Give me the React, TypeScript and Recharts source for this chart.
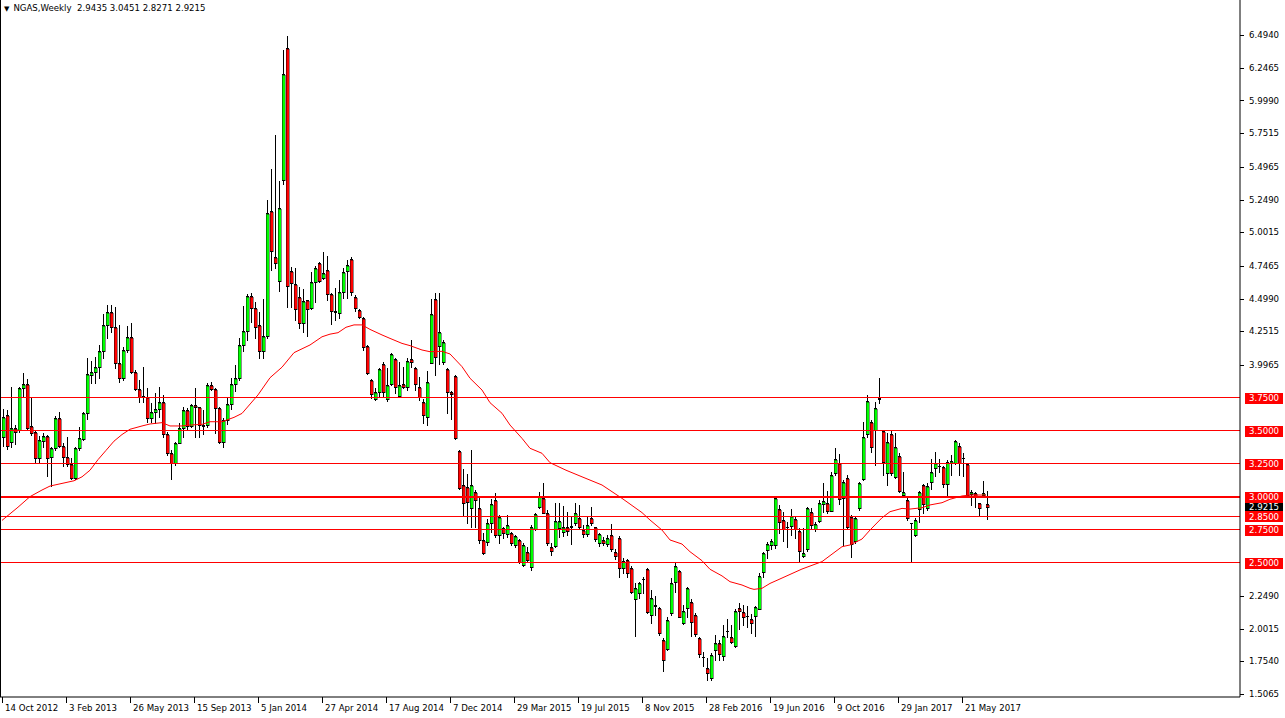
import React from "react";
import { ComposedChart, Bar, Line, XAxis, YAxis, ReferenceLine } from "recharts";

// ---- data (weekly NGAS candles) ----
const opens = [
  3.45, 3.618, 3.416, 3.522, 3.504, 3.822, 3.852, 3.534, 3.49, 3.29,
  3.424, 3.459, 3.297, 3.366, 3.593, 3.383, 3.302, 3.245, 3.138, 3.366,
  3.434, 3.63, 3.92, 3.94, 3.98, 4.1, 4.3, 4.4, 4.282, 4.014,
  3.895, 4.11, 4.206, 3.946, 3.812, 3.762, 3.757, 3.593, 3.638, 3.661,
  3.719, 3.474, 3.333, 3.252, 3.408, 3.517, 3.656, 3.535, 3.694, 3.676,
  3.542, 3.542, 3.845, 3.812, 3.668, 3.416, 3.58, 3.7, 3.85, 3.9,
  4.148, 4.254, 4.519, 4.425, 4.3, 4.1, 4.218, 5.162, 4.811, 4.635,
  5.394, 6.394, 4.71, 4.607, 4.509, 4.312, 4.486, 4.43, 4.625, 4.766,
  4.652, 4.713, 4.531, 4.405, 4.388, 4.552, 4.71, 4.799, 4.514, 4.413,
  4.35, 4.14, 3.883, 3.737, 3.79, 4.001, 3.737, 3.853, 4.039, 3.764,
  3.853, 3.832, 4.042, 3.971, 3.832, 3.714, 3.6, 4.014, 4.494, 4.14,
  4.022, 3.964, 3.79, 3.913, 3.346, 3.088, 3.075, 2.912, 3.032, 2.912,
  2.672, 2.654, 2.803, 2.974, 2.71, 2.76, 2.717, 2.722, 2.634, 2.672,
  2.482, 2.583, 2.465, 2.753, 2.924, 2.987, 2.874, 2.616, 2.626, 2.76,
  2.735, 2.768, 2.771, 2.803, 2.836, 2.747, 2.717, 2.841, 2.768, 2.647,
  2.672, 2.641, 2.71, 2.583, 2.684, 2.457, 2.52, 2.457, 2.222, 2.268,
  2.376, 2.452, 2.104, 2.174, 2.159, 1.915, 1.844, 2.117, 2.351, 2.437,
  2.046, 2.155, 2.2, 2.104, 1.927, 1.783, 1.705, 1.625, 1.839, 1.894,
  1.794, 1.984, 1.94, 1.869, 2.155, 2.129, 2.095, 2.074, 2.096, 2.149,
  2.432, 2.596, 2.634, 2.634, 2.904, 2.823, 2.771, 2.78, 2.828, 2.74,
  2.553, 2.601, 2.886, 2.755, 2.818, 2.942, 2.954, 2.894, 3.176, 3.257,
  2.987, 3.143, 2.848, 2.664, 2.916, 3.133, 3.472, 3.562, 3.504, 3.749,
  3.5, 3.181, 3.474, 3.146, 3.307, 3.012, 2.975, 2.797, 2.709, 2.906,
  3.088, 2.911, 3.113, 3.214, 3.233, 3.227, 3.095, 3.252, 3.252, 3.383,
  3.296, 3.247, 3.02, 3.025, 2.949, 3.012, 2.9435,
];
const highs = [
  3.66, 3.656, 3.832, 3.54, 3.832, 3.933, 3.888, 3.744, 3.504, 3.459,
  3.479, 3.465, 3.378, 3.61, 3.643, 3.403, 3.454, 3.29, 3.378, 3.529,
  3.643, 4.05, 4.03, 4.06, 4.15, 4.38, 4.45, 4.45, 4.438, 4.3,
  4.135, 4.292, 4.312, 3.959, 3.883, 3.979, 3.82, 3.706, 3.782, 3.827,
  3.77, 3.492, 3.353, 3.416, 3.555, 3.681, 3.668, 3.7, 3.82, 3.681,
  3.656, 3.858, 3.87, 3.82, 3.681, 3.593, 3.75, 3.9, 4.0, 4.2,
  4.443, 4.531, 4.539, 4.471, 4.4, 4.496, 5.245, 5.48, 5.737, 5.389,
  6.381, 6.487, 4.735, 4.728, 4.584, 4.569, 4.49, 4.703, 4.748, 4.775,
  4.849, 4.821, 4.54, 4.577, 4.64, 4.728, 4.791, 4.811, 4.527, 4.418,
  4.357, 4.148, 3.888, 3.82, 3.971, 4.022, 3.971, 4.09, 4.047, 4.022,
  3.984, 4.047, 4.186, 3.984, 3.908, 3.739, 3.951, 4.494, 4.544, 4.539,
  4.186, 3.971, 3.802, 3.918, 3.353, 3.207, 3.171, 3.353, 3.05, 3.0,
  2.722, 2.828, 2.98, 3.025, 2.861, 2.773, 2.861, 2.735, 2.71, 2.677,
  2.647, 2.621, 2.785, 2.879, 3.037, 3.101, 2.899, 2.647, 2.949, 2.954,
  2.929, 2.886, 2.848, 2.949, 2.937, 2.785, 2.853, 2.924, 2.773, 2.727,
  2.697, 2.71, 2.793, 2.601, 2.702, 2.533, 2.525, 2.475, 2.344, 2.356,
  2.389, 2.462, 2.293, 2.25, 2.167, 1.927, 2.091, 2.382, 2.495, 2.445,
  2.18, 2.318, 2.223, 2.117, 1.94, 1.826, 1.776, 1.814, 1.953, 1.915,
  2.028, 2.071, 2.028, 2.147, 2.192, 2.18, 2.172, 2.112, 2.172, 2.419,
  2.584, 2.659, 2.68, 2.999, 2.937, 2.886, 2.811, 2.906, 2.848, 2.76,
  2.76, 2.92, 2.916, 2.81, 2.975, 3.1, 3.042, 3.189, 3.366, 3.32,
  3.126, 3.164, 2.861, 2.848, 3.113, 3.567, 3.769, 3.58, 3.714, 3.9,
  3.505, 3.484, 3.5, 3.479, 3.333, 3.189, 2.987, 2.8, 2.836, 3.045,
  3.095, 3.1, 3.282, 3.34, 3.282, 3.232, 3.277, 3.315, 3.429, 3.403,
  3.328, 3.252, 3.05, 3.037, 2.954, 3.118, 3.0451,
];
const lows = [
  3.38, 3.358, 3.373, 3.4, 3.49, 3.757, 3.504, 3.466, 3.252, 3.252,
  3.378, 3.156, 3.08, 3.353, 3.373, 3.232, 3.232, 3.131, 3.131, 3.353,
  3.429, 3.585, 3.86, 3.86, 3.9, 4.05, 4.2, 4.25, 3.971, 3.87,
  3.883, 4.097, 3.938, 3.807, 3.719, 3.719, 3.568, 3.568, 3.555, 3.605,
  3.454, 3.315, 3.131, 3.239, 3.403, 3.454, 3.509, 3.53, 3.454, 3.454,
  3.474, 3.53, 3.807, 3.479, 3.403, 3.378, 3.55, 3.66, 3.8, 3.88,
  4.1, 4.186, 4.325, 4.203, 4.05, 4.05, 4.198, 4.716, 4.733, 4.557,
  5.367, 4.438, 4.438, 4.337, 4.279, 4.249, 4.218, 4.42, 4.476, 4.627,
  4.647, 4.488, 4.304, 4.337, 4.35, 4.501, 4.501, 4.527, 4.408, 4.35,
  4.11, 3.928, 3.744, 3.732, 3.757, 3.762, 3.726, 3.845, 3.782, 3.757,
  3.82, 3.807, 3.984, 3.807, 3.732, 3.555, 3.54, 4.009, 3.921, 4.004,
  4.004, 3.631, 3.585, 3.434, 3.06, 2.861, 2.803, 2.773, 2.773, 2.647,
  2.566, 2.634, 2.735, 2.697, 2.647, 2.684, 2.692, 2.634, 2.616, 2.5,
  2.475, 2.508, 2.445, 2.748, 2.911, 2.874, 2.634, 2.558, 2.616, 2.697,
  2.702, 2.71, 2.641, 2.785, 2.76, 2.697, 2.702, 2.785, 2.667, 2.626,
  2.634, 2.626, 2.591, 2.525, 2.394, 2.42, 2.389, 2.268, 1.945, 2.23,
  2.268, 2.122, 2.041, 2.104, 1.953, 1.682, 1.839, 2.104, 2.28, 2.086,
  2.036, 2.091, 1.945, 1.945, 1.789, 1.718, 1.612, 1.612, 1.763, 1.763,
  1.763, 1.94, 1.889, 1.859, 1.995, 2.028, 2.01, 1.97, 1.945, 2.147,
  2.394, 2.533, 2.6, 2.614, 2.722, 2.667, 2.621, 2.71, 2.684, 2.513,
  2.545, 2.591, 2.76, 2.742, 2.81, 2.886, 2.874, 2.89, 3.164, 2.942,
  2.634, 2.755, 2.545, 2.646, 2.899, 3.126, 3.454, 3.34, 3.239, 3.706,
  3.164, 3.088, 3.164, 3.138, 3.037, 3.005, 2.823, 2.515, 2.702, 2.811,
  2.874, 2.899, 3.055, 3.156, 3.189, 3.075, 3.012, 3.164, 3.244, 3.164,
  3.159, 3.005, 2.937, 2.924, 2.853, 2.999, 2.8271,
];
const closes = [
  3.6, 3.383, 3.517, 3.49, 3.822, 3.852, 3.517, 3.484, 3.29, 3.428,
  3.459, 3.295, 3.366, 3.593, 3.383, 3.302, 3.247, 3.138, 3.366, 3.441,
  3.63, 3.928, 3.94, 3.98, 4.1, 4.3, 4.4, 4.282, 4.014, 3.895,
  4.11, 4.206, 3.946, 3.812, 3.757, 3.752, 3.593, 3.638, 3.661, 3.719,
  3.474, 3.328, 3.252, 3.408, 3.517, 3.656, 3.535, 3.694, 3.676, 3.542,
  3.537, 3.845, 3.812, 3.668, 3.416, 3.58, 3.7, 3.85, 3.9, 4.148,
  4.254, 4.519, 4.425, 4.287, 4.1, 4.218, 5.145, 4.862, 4.771, 5.182,
  6.197, 4.597, 4.62, 4.418, 4.312, 4.481, 4.418, 4.625, 4.728, 4.632,
  4.69, 4.531, 4.408, 4.395, 4.547, 4.703, 4.753, 4.552, 4.425, 4.362,
  4.135, 3.933, 3.777, 3.795, 3.964, 3.79, 3.845, 4.077, 3.832, 3.845,
  3.832, 4.027, 4.022, 3.853, 3.757, 3.618, 3.865, 4.383, 4.06, 4.244,
  4.173, 3.79, 3.78, 3.446, 3.063, 2.949, 2.962, 3.088, 2.974, 2.672,
  2.571, 2.803, 2.944, 2.71, 2.843, 2.722, 2.785, 2.652, 2.702, 2.508,
  2.634, 2.52, 2.773, 2.868, 3.004, 2.879, 2.647, 2.591, 2.818, 2.818,
  2.768, 2.742, 2.775, 2.874, 2.773, 2.714, 2.785, 2.803, 2.677, 2.714,
  2.652, 2.684, 2.601, 2.553, 2.457, 2.515, 2.419, 2.281, 2.306, 2.349,
  2.378, 2.129, 2.23, 2.176, 1.965, 1.763, 2.066, 2.349, 2.477, 2.091,
  2.137, 2.306, 2.053, 1.96, 1.809, 1.785, 1.662, 1.801, 1.889, 1.809,
  1.948, 1.986, 1.902, 2.137, 2.137, 2.086, 2.097, 2.046, 2.162, 2.399,
  2.571, 2.639, 2.666, 2.987, 2.81, 2.755, 2.773, 2.856, 2.755, 2.591,
  2.57, 2.911, 2.785, 2.79, 2.954, 2.967, 2.891, 3.164, 3.282, 2.982,
  3.113, 2.772, 2.639, 2.836, 3.1, 3.454, 3.724, 3.378, 3.673, 3.737,
  3.265, 3.411, 3.181, 3.373, 3.045, 3.037, 2.836, 2.799, 2.823, 3.037,
  2.944, 3.08, 3.189, 3.252, 3.235, 3.095, 3.265, 3.27, 3.421, 3.252,
  3.294, 3.012, 3.037, 3.005, 2.916, 3.03, 2.9215,
];

// moving average, read at selected weeks
const maIndex = [
  0, 4, 7, 10, 12, 15, 18, 20, 22, 24, 26, 28, 30, 32, 35, 37, 40, 42, 45, 47,
  50, 52, 55, 58, 60, 64, 67, 70, 73, 77, 80, 82, 84, 86, 88, 90, 92, 95, 97, 100,
  102, 105, 107, 110, 112, 115, 117, 120, 122, 125, 127, 130, 132, 135, 137, 141, 145, 150, 155, 160,
  162, 165, 167, 170, 172, 175, 177, 180, 182, 185, 187, 188, 190, 192, 194, 200, 205, 210, 212, 215,
  217, 220, 222, 225, 227, 230, 232, 235, 237, 240, 242, 246,
];
const maValue = [
  2.82, 2.92, 3.0, 3.05, 3.08, 3.1, 3.12, 3.15, 3.2, 3.28, 3.35, 3.42, 3.47, 3.51, 3.535, 3.55, 3.56, 3.535, 3.535, 3.542,
  3.547, 3.567, 3.567, 3.6, 3.63, 3.77, 3.9, 3.98, 4.09, 4.148, 4.21, 4.23, 4.241, 4.282, 4.3, 4.3, 4.266, 4.224, 4.198, 4.16,
  4.143, 4.11, 4.097, 4.1, 4.08, 3.984, 3.896, 3.807, 3.711, 3.631, 3.542, 3.441, 3.366, 3.328, 3.257, 3.2, 3.15, 3.088, 2.987, 2.879,
  2.823, 2.747, 2.672, 2.641, 2.583, 2.515, 2.45, 2.4, 2.356, 2.331, 2.306, 2.298, 2.306, 2.343, 2.37, 2.452, 2.508, 2.621, 2.634, 2.679,
  2.747, 2.84, 2.886, 2.911, 2.906, 2.916, 2.937, 2.954, 2.98, 3.005, 3.012, 3.012,
];

const dateLabels = [
  "14 Oct 2012", "3 Feb 2013", "26 May 2013", "15 Sep 2013", "5 Jan 2014",
  "27 Apr 2014", "17 Aug 2014", "7 Dec 2014", "29 Mar 2015", "19 Jul 2015",
  "8 Nov 2015", "28 Feb 2016", "19 Jun 2016", "9 Oct 2016", "29 Jan 2017",
  "21 May 2017",
];
const weeksPerLabel = 16;
const priceTicks = [
  6.494, 6.2465, 5.999, 5.7515, 5.4965, 5.249, 5.0015, 4.7465, 4.499, 4.2515,
  3.9965, 2.249, 2.0015, 1.754, 1.5065,
];
const levelLines = [3.75, 3.5, 3.25, 3.0, 2.85, 2.75, 2.5];
const lastPrice = 2.9215;
const titleText = "NGAS,Weekly  2.9435 3.0451 2.8271 2.9215";

// ---- layout ----
const W = 1285;
const H = 718;
const PLOT_RIGHT = 1240;
const PLOT_BOTTOM = 697;
const SLOT_COUNT = 310;
const Y_MAX = 6.7595;
const Y_MIN = 1.4832;
const FONT = "'DejaVu Sans', Tahoma, sans-serif";
const FS = 8.6;

const maByIndex = new Map(maIndex.map((k, j) => [k, maValue[j]]));
const chartData = Array.from({ length: SLOT_COUNT }, (_, i) => {
  const has = i < opens.length;
  return {
    i,
    range: has ? [lows[i], highs[i]] : null,
    open: has ? opens[i] : null,
    high: has ? highs[i] : null,
    low: has ? lows[i] : null,
    close: has ? closes[i] : null,
    ma: maByIndex.has(i) ? maByIndex.get(i) : null,
  };
});

const Candle = (props: any) => {
  const { x, y, width, height, payload } = props;
  if (!payload || payload.open == null) return null;
  const { open, close, high, low } = payload;
  const top = Math.min(y, y + height);
  const span = Math.abs(height);
  const k = span / (high - low);
  const py = (p: number) => top + (high - p) * k;
  const c = Math.round(x + width / 2);
  const bull = close >= open;
  const bt = Math.round(py(Math.max(open, close)));
  const bb = Math.round(py(Math.min(open, close)));
  const hy = Math.round(py(high));
  const ly = Math.round(py(low));
  const fill = bull ? "#00ff00" : "#ff0000";
  const bodyH = Math.max(1, bb - bt + 1);
  return (
    <g shapeRendering="crispEdges">
      <rect x={c} y={hy} width={1} height={Math.max(1, ly - hy + 1)} fill="#000" />
      <rect x={c - 1} y={bt} width={3} height={bodyH} fill="#000" />
      {bb - bt >= 2 ? (
        <rect x={c - 1} y={bt + 1} width={3} height={bb - bt - 1} fill={fill} stroke="#000" strokeOpacity={0.45} strokeWidth={1} />
      ) : null}
    </g>
  );
};

const DateTick = (props: any) => {
  const { x, payload } = props;
  const idx = Number(payload.value);
  const j = idx / weeksPerLabel;
  if (!Number.isInteger(j) || j >= dateLabels.length) return null;
  const lx = Math.round(x);
  return (
    <g>
      <rect x={lx} y={PLOT_BOTTOM} width={1} height={6} fill="#000" shapeRendering="crispEdges" />
      <text x={lx + 3} y={711} fontSize={FS} fontFamily={FONT} fill="#000">
        {dateLabels[j]}
      </text>
    </g>
  );
};

const PriceTick = (props: any) => {
  const { y, payload } = props;
  const v = Number(payload.value);
  const label = v.toFixed(4);
  const isLevel = levelLines.includes(v);
  const isLast = v === lastPrice;
  if (isLevel || isLast) {
    return (
      <g>
        <rect x={PLOT_RIGHT + 5} y={Math.round(y) - 5} width={38} height={11} fill={isLast ? "#000" : "#ff0000"} shapeRendering="crispEdges" />
        <text x={PLOT_RIGHT + 9} y={y} dy="0.36em" fontSize={FS} fontFamily={FONT} fill="#fff">
          {label}
        </text>
      </g>
    );
  }
  return (
    <g>
      <rect x={PLOT_RIGHT} y={Math.round(y)} width={4} height={1} fill="#000" shapeRendering="crispEdges" />
      <text x={PLOT_RIGHT + 9} y={y} dy="0.36em" fontSize={FS} fontFamily={FONT} fill="#000">
        {label}
      </text>
    </g>
  );
};

const allTicks = [...priceTicks, lastPrice, ...levelLines];

export default function App() {
  return (
    <div style={{ position: "absolute", left: 0, top: 0, width: W, height: H, background: "#fff" }}>
      <ComposedChart
        width={W}
        height={H}
        data={chartData}
        margin={{ top: 0, right: 0, bottom: 0, left: 0 }}
        barCategoryGap={0}
      >
        <XAxis
          dataKey="i"
          type="category"
          interval={weeksPerLabel - 1}
          tick={<DateTick />}
          tickLine={false}
          axisLine={{ stroke: "#000" }}
          height={H - PLOT_BOTTOM}
        />
        <YAxis
          orientation="right"
          type="number"
          domain={[Y_MIN, Y_MAX]}
          allowDataOverflow
          ticks={allTicks}
          interval={0}
          tick={<PriceTick />}
          tickLine={false}
          axisLine={{ stroke: "#000" }}
          width={W - PLOT_RIGHT}
        />
        {levelLines.map((v) => (
          <ReferenceLine
            key={v}
            y={v}
            stroke="#ff0000"
            strokeWidth={v === 3 ? 2 : 1}
            shapeRendering="crispEdges"
          />
        ))}
        <Line
          dataKey="ma"
          type="linear"
          stroke="#ff0000"
          strokeWidth={1}
          dot={false}
          connectNulls
          isAnimationActive={false}
        />
        <Bar dataKey="range" barSize={3} shape={(p: any) => <Candle {...p} />} isAnimationActive={false} />
      </ComposedChart>
      <div style={{ position: "absolute", left: 0, top: 0, width: 1, height: PLOT_BOTTOM, background: "#000" }} />
      <div
        style={{
          position: "absolute",
          left: 4,
          top: 2,
          fontFamily: FONT,
          fontSize: FS,
          color: "#000",
          whiteSpace: "pre",
          lineHeight: "12px",
        }}
      >
        <span style={{ fontSize: 7, marginRight: 4 }}>▼</span>
        {titleText}
      </div>
    </div>
  );
}
